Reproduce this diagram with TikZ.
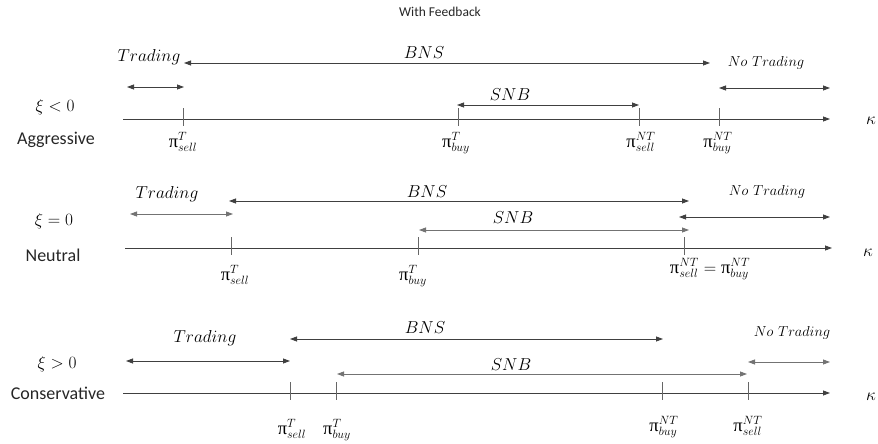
\documentclass[tikz,border=0pt]{standalone}
\usepackage{amsmath}
\usepackage{fontspec}
\setsansfont{Carlito}
\newfontfamily\grkfont{Liberation Serif}
\usetikzlibrary{arrows.meta}
\newcommand\PIsym{\text{\grkfont π}}
\begin{document}
\begin{tikzpicture}[x=1pt,y=-1pt,
  tipA/.tip={Triangle[length=7pt,width=5pt]},
  axisline/.style={draw=black!75, line width=0.8pt, -tipA},
  span/.style={draw=black!75, line width=0.8pt, tipA-tipA},
  spanlight/.style={draw=black!55, line width=0.8pt, tipA-tipA},
  tickmark/.style={draw=black!60, line width=0.7pt},
  ttl/.style={font=\fontsize{13.5}{15}\sffamily, inner sep=0pt, text=black!85},
  side/.style={font=\fontsize{18}{20}\sffamily, inner sep=0pt, text=black!85},
  xilbl/.style={font=\fontsize{19}{21}\selectfont, inner sep=0pt},
  tradlbl/.style={font=\fontsize{19}{21}\selectfont, inner sep=0pt},
  reglbl/.style={font=\fontsize{17.5}{19}\selectfont, inner sep=0pt},
  ntlbl/.style={font=\fontsize{14.5}{16}\selectfont, inner sep=0pt},
  pilbl/.style={font=\fontsize{18.5}{20}\selectfont, inner sep=0pt, anchor=base},
  kap/.style={font=\fontsize{19}{21}\selectfont, inner sep=0pt}
]
\useasboundingbox (0,0) rectangle (878,444);

\node[ttl] (title) at (440,12) {With Feedback};

% ---------------- Panel 1 ----------------
\node[xilbl] (xi1) at (55,107) {$\xi < 0$};
\node[side] (agg) at (56,140) {Aggressive};
\coordinate (a1s) at (123,119); \coordinate (a1e) at (830,119);
\draw[axisline] (a1s) -- (a1e);
\node[kap] (k1) at (871,121) {$\kappa$};
\coordinate (t1a) at (183,119); \coordinate (t1b) at (458,119);
\coordinate (t1c) at (639,119); \coordinate (t1d) at (719,119);
\foreach \t in {t1a,t1b,t1c,t1d} \draw[tickmark] (\t) +(0,-11) -- +(0,7);
\node[pilbl] (p1a) at (183,147) {$\PIsym^{T}_{sell}$};
\node[pilbl] (p1b) at (456,147) {$\PIsym^{T}_{buy}$};
\node[pilbl] (p1c) at (641,147) {$\PIsym^{NT}_{sell}$};
\node[pilbl] (p1d) at (718,147) {$\PIsym^{NT}_{buy}$};
\node[tradlbl] (tr1) at (149,57) {$Trading$};
\coordinate (tr1l) at (127,87); \coordinate (tr1r) at (184,87);
\draw[span] (tr1l) -- (tr1r);
\node[reglbl] (bns1) at (424,53) {$BNS$};
\coordinate (bns1l) at (184,63); \coordinate (bns1r) at (710,63);
\draw[span] (bns1l) -- (bns1r);
\node[reglbl] (snb1) at (510,95) {$SNB$};
\coordinate (snb1l) at (457,105); \coordinate (snb1r) at (639,105);
\draw[span] (snb1l) -- (snb1r);
\node[ntlbl] (nt1) at (766,63) {$No\ Trading$};
\coordinate (nt1l) at (719,88); \coordinate (nt1r) at (830,88);
\draw[span] (nt1l) -- (nt1r);

% ---------------- Panel 2 ----------------
\node[xilbl] (xi2) at (54,221) {$\xi = 0$};
\node[side] (neu) at (53,255) {Neutral};
\coordinate (a2s) at (125,248); \coordinate (a2e) at (832,248);
\draw[axisline] (a2s) -- (a2e);
\node[kap] (k2) at (868,253) {$\kappa$};
\coordinate (t2a) at (231,248); \coordinate (t2b) at (418,248);
\coordinate (t2c) at (684,248);
\foreach \t in {t2a,t2b,t2c} \draw[tickmark] (\t) +(0,-11) -- +(0,7);
\node[pilbl] (p2a) at (235,280) {$\PIsym^{T}_{sell}$};
\node[pilbl] (p2b) at (413,280) {$\PIsym^{T}_{buy}$};
\node[pilbl] (p2c) at (710,273) {$\PIsym^{NT}_{sell} = \PIsym^{NT}_{buy}$};
\node[tradlbl] (tr2) at (167,194) {$Trading$};
\coordinate (tr2l) at (130,214); \coordinate (tr2r) at (233,214);
\draw[spanlight] (tr2l) -- (tr2r);
\node[reglbl] (bns2) at (427,192) {$BNS$};
\coordinate (bns2l) at (229,201); \coordinate (bns2r) at (689,201);
\draw[span] (bns2l) -- (bns2r);
\node[reglbl] (snb2) at (513,218) {$SNB$};
\coordinate (snb2l) at (419,230); \coordinate (snb2r) at (689,230);
\draw[spanlight] (snb2l) -- (snb2r);
\node[ntlbl] (nt2) at (767,192) {$No\ Trading$};
\coordinate (nt2l) at (679,217); \coordinate (nt2r) at (830,217);
\draw[span] (nt2l) -- (nt2r);

% ---------------- Panel 3 ----------------
\node[xilbl] (xi3) at (57,364) {$\xi > 0$};
\node[side] (con) at (58,393) {Conservative};
\coordinate (a3s) at (123,393); \coordinate (a3e) at (830,393);
\draw[axisline] (a3s) -- (a3e);
\node[kap] (k3) at (871,397) {$\kappa$};
\coordinate (t3a) at (290,393); \coordinate (t3b) at (336,393);
\coordinate (t3c) at (662,393); \coordinate (t3d) at (748,393);
\foreach \t in {t3a,t3b,t3c,t3d} \draw[tickmark] (\t) +(0,-11) -- +(0,7);
\node[pilbl] (p3a) at (292,434) {$\PIsym^{T}_{sell}$};
\node[pilbl] (p3b) at (337,434) {$\PIsym^{T}_{buy}$};
\node[pilbl] (p3c) at (664,431) {$\PIsym^{NT}_{buy}$};
\node[pilbl] (p3d) at (748,431) {$\PIsym^{NT}_{sell}$};
\node[tradlbl] (tr3) at (205,338) {$Trading$};
\coordinate (tr3l) at (126,361); \coordinate (tr3r) at (290,361);
\draw[span] (tr3l) -- (tr3r);
\node[reglbl] (bns3) at (425,328) {$BNS$};
\coordinate (bns3l) at (290,339); \coordinate (bns3r) at (663,339);
\draw[span] (bns3l) -- (bns3r);
\node[reglbl] (snb3) at (511,365) {$SNB$};
\coordinate (snb3l) at (337,374); \coordinate (snb3r) at (747,374);
\draw[spanlight] (snb3l) -- (snb3r);
\node[ntlbl] (nt3) at (792,333) {$No\ Trading$};
\coordinate (nt3l) at (748,362); \coordinate (nt3r) at (830,362);
\draw[spanlight] (nt3l) -- (nt3r);
\end{tikzpicture}
\end{document}
